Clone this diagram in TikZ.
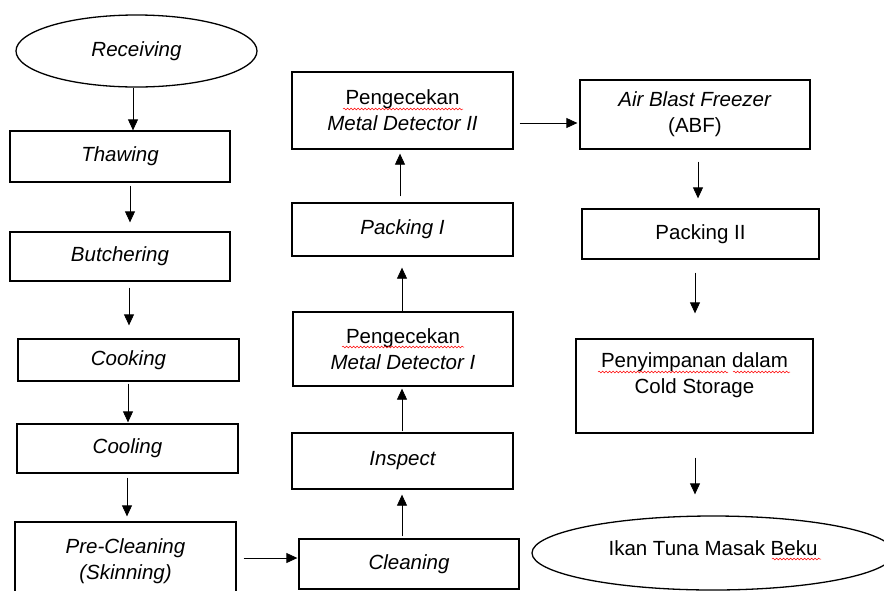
\documentclass[tikz,border=0pt]{standalone}
\usepackage{fontspec}
\setmainfont{Liberation Sans}
\usetikzlibrary{arrows.meta,shapes.geometric,decorations.pathmorphing}
\newcommand\dfont{\fontsize{20.5}{26}\selectfont}
\begin{document}
\begin{tikzpicture}[x=1pt,y=-1pt,
  box/.style={draw, line width=1.3pt, inner sep=0pt, align=center, font=\dfont},
  oval/.style={ellipse, draw, line width=1.3pt, inner sep=0pt, font=\dfont},
  arr/.style={-{Triangle[length=11pt,width=10pt]}, line width=0.8pt},
  squig/.style={red, line width=0.5pt, decorate, decoration={snake, segment length=3.5pt, amplitude=0.9pt}}]
\useasboundingbox (0,0) rectangle (884,590);
\clip (0,0) rectangle (884,590);
% nodes
\node[oval, minimum width=241pt, minimum height=72pt] (recv) at (136.5,51) {\itshape Receiving};
\node[box, minimum width=220pt, minimum height=51pt] (thaw) at (120,156.5) {\itshape Thawing};
\node[box, minimum width=220pt, minimum height=49pt] (butch) at (120,256.5) {\itshape Butchering};
\node[box, minimum width=221pt, minimum height=42pt] (cook) at (128.5,360) {\itshape Cooking};
\node[box, minimum width=221pt, minimum height=49pt] (cool) at (127.5,448.5) {\itshape Cooling};
\node[box, minimum width=221pt, minimum height=78pt] (prec) at (125.5,561) {\textit{Pre-Cleaning}\\\textit{(Skinning)}};
\node[box, minimum width=220pt, minimum height=50pt] (clean) at (409,564) {\itshape Cleaning};
\node[box, minimum width=221pt, minimum height=56pt] (insp) at (402.5,461) {\itshape Inspect};
\node[box, minimum width=220pt, minimum height=74pt] (md1) at (403,349) {Pengecekan\\\textit{Metal Detector I}};
\node[box, minimum width=221pt, minimum height=53pt] (pack1) at (402.5,229.5) {\itshape Packing I};
\node[box, minimum width=221pt, minimum height=77pt] (md2) at (402.5,110.5) {Pengecekan\\\textit{Metal Detector II}};
\node[box, minimum width=230pt, minimum height=69pt] (abf) at (695,114.5) {\textit{Air Blast Freezer}\\(ABF)};
\node[box, minimum width=237pt, minimum height=50pt] (pack2) at (700.5,234) {Packing II};
\node[box, minimum width=237pt, minimum height=94pt,
  label={[name=storl, align=center, font=\dfont, yshift=11pt]center:Penyimpanan dalam\\Cold Storage}] (stor) at (694.5,386) {};
\node[oval, minimum width=362pt, minimum height=74pt,
  label={[name=ikanl, font=\dfont, yshift=5pt]center:Ikan Tuna Masak Beku}] (ikan) at (713,553) {};
% connectors
\draw[arr] ([xshift=-3.5pt]recv.south) -- ([xshift=13pt]thaw.north);
\draw[arr, shorten <=3pt, shorten >=9pt] ([xshift=10pt]thaw.south) -- ([xshift=10pt]butch.north);
\draw[arr, shorten <=6pt, shorten >=13pt] ([xshift=9pt]butch.south) -- ([xshift=0.5pt]cook.north);
\draw[arr, shorten <=2pt, shorten >=1pt] ([xshift=-0.5pt]cook.south) -- ([xshift=0.5pt]cool.north);
\draw[arr, shorten <=4pt, shorten >=5pt] ([xshift=-0.5pt]cool.south) -- ([xshift=1.5pt]prec.north);
\draw[arr, shorten <=7pt, shorten >=1pt] ([yshift=3pt]prec.east) -- ([yshift=6pt]clean.west);
\draw[arr, shorten <=2pt, shorten >=5pt] ([xshift=-7pt]clean.north) -- ([xshift=-0.5pt]insp.south);
\draw[arr, shorten <=1pt, shorten >=2pt] ([xshift=-0.5pt]insp.north) -- ([xshift=-1pt]md1.south);
\draw[arr, shorten >=11pt] ([xshift=-1pt]md1.north) -- ([xshift=-0.5pt]pack1.south);
\draw[arr, shorten <=6pt, shorten >=4pt] ([xshift=-2.5pt]pack1.north) -- ([xshift=-2.5pt]md2.south);
\draw[arr, shorten <=6pt, shorten >=2pt] ([yshift=-12.5pt]md2.east) -- ([yshift=-8.5pt]abf.west);
\draw[arr, shorten <=12pt, shorten >=10pt] ([xshift=3pt]abf.south) -- ([xshift=-2.5pt]pack2.north);
\draw[arr, shorten <=13pt, shorten >=25pt] ([xshift=-5.5pt]pack2.south) -- ([xshift=0.5pt]stor.north);
\draw[arr, shorten <=24pt, shorten >=21pt] ([xshift=0.5pt]stor.south) -- ([xshift=-18pt]ikan.north);
% spell-check underlines
\draw[squig] (343,109) -- (463,109);
\draw[squig] (342,347) -- (464,347);
\draw[squig] (598,372) -- (728,372);
\draw[squig] (733,372) -- (790,372);
\draw[squig] (772,559) -- (821,559);
\end{tikzpicture}
\end{document}
